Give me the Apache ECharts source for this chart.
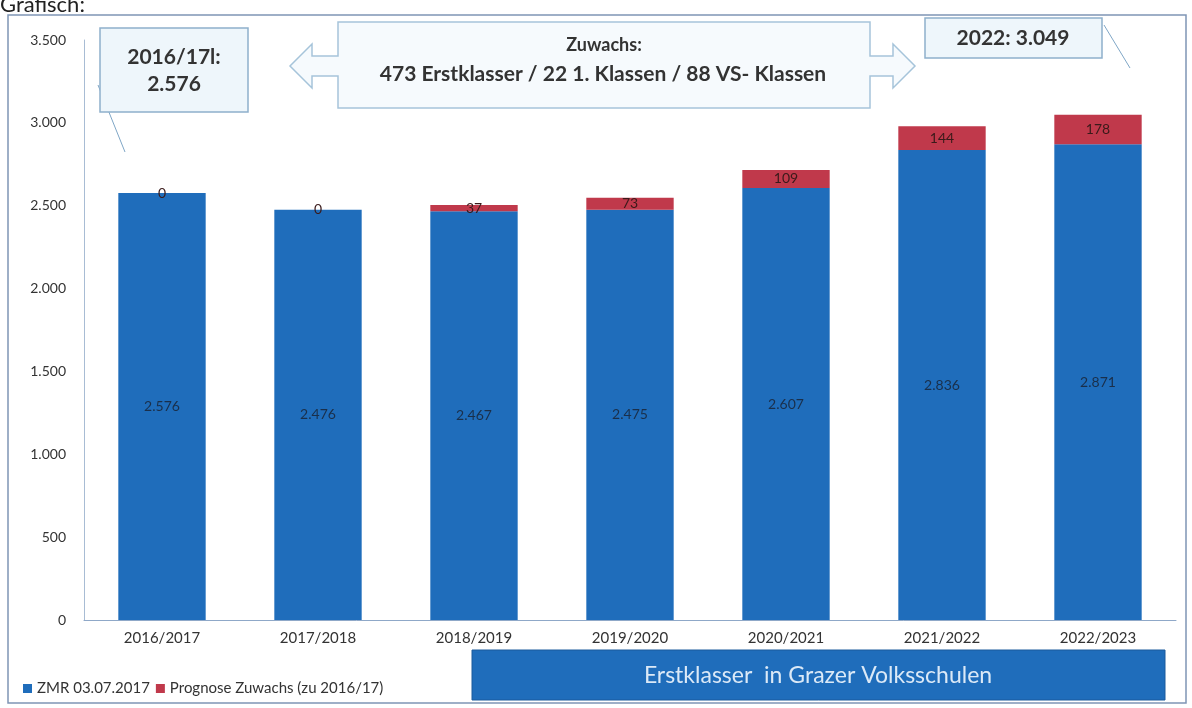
<!DOCTYPE html>
<html><head><meta charset="utf-8">
<script src="https://cdn.jsdelivr.net/npm/echarts@6/dist/echarts.min.js"></script>
<style>html,body{margin:0;padding:0;background:#fff}#c{width:1192px;height:708px}</style>
</head><body><div id="c"></div>
<script>
const categories = ['2016/2017','2017/2018','2018/2019','2019/2020','2020/2021','2021/2022','2022/2023'];
const zmrValues = [2576, 2476, 2467, 2475, 2607, 2836, 2871];
const prognoseValues = [0, 0, 37, 73, 109, 144, 178];
const yTicks = [0, 500, 1000, 1500, 2000, 2500, 3000, 3500];
const seriesNames = ['ZMR 03.07.2017', 'Prognose Zuwachs (zu 2016/17)'];

const FONT = 'Lato, "Open Sans", sans-serif';
const chart = echarts.init(document.getElementById('c'));
const fmt = v => v >= 1000 ? Math.floor(v/1000) + '.' + String(v%1000).padStart(3,'0') : String(v);

chart.setOption({
  animation: false,
  textStyle: { fontFamily: FONT },
  grid: { left: 84, right: 16, top: 40, bottom: 88, containLabel: false },
  legend: {
    left: 18, top: 676, itemWidth: 9, itemHeight: 9, itemGap: 6,
    icon: 'rect',
    textStyle: { fontSize: 15, color: '#333', fontFamily: FONT },
    data: seriesNames
  },
  xAxis: {
    type: 'category', data: categories,
    axisLine: { lineStyle: { color: '#8fa8c8' } },
    axisTick: { show: false },
    axisLabel: { fontSize: 15, color: '#333', margin: 11, fontFamily: FONT }
  },
  yAxis: {
    type: 'value', min: 0, max: 3500, interval: 500,
    axisLine: { show: true, lineStyle: { color: '#a8bcd4' } },
    axisTick: { show: false },
    splitLine: { show: false },
    axisLabel: { fontSize: 14, color: '#333', margin: 18, fontFamily: FONT, formatter: v => yTicks.includes(v) ? fmt(v) : '' }
  },
  series: [
    {
      name: seriesNames[0], type: 'bar', stack: 's', barWidth: '56%',
      data: zmrValues,
      itemStyle: { color: '#1f6dbb' },
      label: { show: true, position: 'inside', color: '#1a2f4a', fontSize: 14, fontFamily: FONT, formatter: p => fmt(p.value) }
    },
    {
      name: seriesNames[1], type: 'bar', stack: 's', barWidth: '56%',
      data: prognoseValues,
      itemStyle: { color: '#c0394b' },
      label: { show: true, position: 'inside', color: '#3a1a1a', fontSize: 14, fontFamily: FONT,
        formatter: p => String(p.value) }
    }
  ],
  graphic: [
    { type: 'text', left: 0, top: -6, style: { text: 'Grafisch:', fontSize: 22, fill: '#222', fontFamily: FONT } },
    { type: 'rect', shape: { x: 8, y: 15, width: 1178, height: 688 }, style: { fill: 'none', stroke: '#7f95b5', lineWidth: 1.5 }, silent: true },
    { type: 'line', shape: { x1: 98, y1: 85, x2: 125, y2: 152 }, style: { stroke: '#7fa6c6', lineWidth: 1 } },
    { type: 'rect', shape: { x: 100, y: 28, width: 148, height: 84 }, style: { fill: '#eef6fb', stroke: '#8eb0cc', lineWidth: 1.5 } },
    { type: 'text', style: { x: 174, y: 71, text: '2016/17l:\n2.576', align: 'center', verticalAlign: 'middle', fontSize: 21, fontWeight: 'bold', fill: '#333', lineHeight: 27, fontFamily: FONT } },
    { type: 'polygon', shape: { points: [[338,22],[870,22],[870,56],[893,56],[893,44],[915,66],[893,88],[893,76],[870,76],[870,108],[338,108],[338,76],[312,76],[312,88],[290,66],[312,44],[312,56],[338,56]] },
      style: { fill: '#f6fafd', stroke: '#a6c4da', lineWidth: 1.5 } },
    { type: 'text', style: { x: 604, y: 45, text: 'Zuwachs:', align: 'center', verticalAlign: 'middle', fontSize: 18, fontWeight: 'bold', fill: '#333', fontFamily: FONT } },
    { type: 'text', style: { x: 603, y: 74, text: '473 Erstklasser / 22 1. Klassen / 88 VS- Klassen', align: 'center', verticalAlign: 'middle', fontSize: 21, fontWeight: 'bold', fill: '#333', fontFamily: FONT } },
    { type: 'line', shape: { x1: 1104, y1: 25, x2: 1130, y2: 68 }, style: { stroke: '#7fa6c6', lineWidth: 1 } },
    { type: 'rect', shape: { x: 925, y: 18, width: 177, height: 40 }, style: { fill: '#eef6fb', stroke: '#8eb0cc', lineWidth: 1.5 } },
    { type: 'text', style: { x: 1013, y: 38, text: '2022: 3.049', align: 'center', verticalAlign: 'middle', fontSize: 21, fontWeight: 'bold', fill: '#333', fontFamily: FONT } },
    { type: 'rect', shape: { x: 472, y: 650, width: 693, height: 50 }, style: { fill: '#1f6dbb', stroke: '#1a5a9c', lineWidth: 1 } },
    { type: 'text', style: { x: 818, y: 676, text: 'Erstklasser  in Grazer Volksschulen', align: 'center', verticalAlign: 'middle', fontSize: 23, fill: '#dbe9f7', fontFamily: FONT } }
  ]
});
</script>
</body></html>
